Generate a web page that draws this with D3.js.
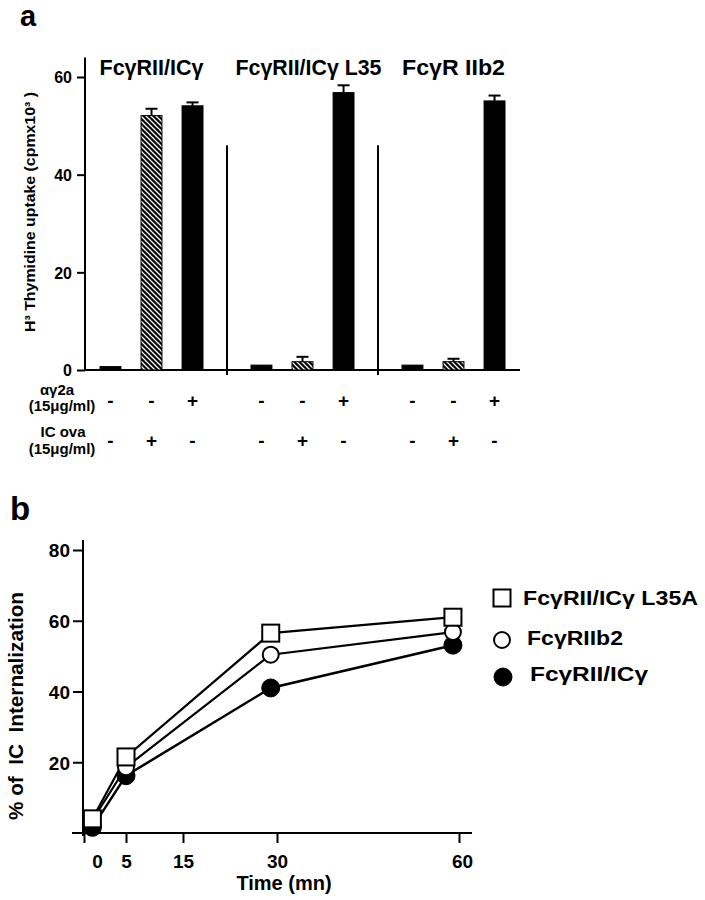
<!DOCTYPE html>
<html><head><meta charset="utf-8">
<script src="https://cdn.jsdelivr.net/npm/d3@7"></script>
<style>
body{margin:0;background:#fff;}
svg text{font-family:"Liberation Sans",Arial,Helvetica,sans-serif;font-weight:bold;fill:#000;}
</style></head>
<body>
<svg id="chart" width="705" height="900"></svg>
<script>
// ---------- Panel a data ----------
const groups = ["FcγRII/ICγ", "FcγRII/ICγ L35", "FcγR IIb2"];
const conditions = ["none", "IC ova", "αγ2a"];
const thymidine = [
  [0.7, 52.1, 54.1],
  [1.0, 1.7, 56.8],
  [1.0, 1.7, 55.1]
];
const thymidineErr = [
  [0, 1.4, 0.7],
  [0, 1.0, 1.5],
  [0, 0.6, 1.1]
];
const antiSigns = ["-", "-", "+"];
const icOvaSigns = ["-", "+", "-"];
const yTicksA = [0, 20, 40, 60];

// ---------- Panel b data ----------
const times = [1, 5, 29, 59];
const seriesNames = ["FcγRII/ICγ L35A", "FcγRIIb2", "FcγRII/ICγ"];
const l35aValues = [4.0, 21.5, 56.5, 61.0];
const iib2Values = [3.6, 18.6, 50.4, 56.8];
const icgValues = [1.6, 16.2, 41.0, 53.1];
const xTicksB = [0, 5, 15, 30, 60];
const yTicksB = [20, 40, 60, 80];

const svg = d3.select("#chart");
const defs = svg.append("defs");
const pat = defs.append("pattern").attr("id", "hatch")
  .attr("patternUnits", "userSpaceOnUse").attr("width", 5).attr("height", 5);
pat.append("rect").attr("width", 5).attr("height", 5).attr("fill", "#000");
pat.append("path").attr("d", "M-1,-1L6,6M-1,4L1,6M4,-1L6,1")
  .attr("stroke", "#fff").attr("stroke-width", 1.3);

// ================= PANEL A =================
svg.append("text").attr("x", 20).attr("y", 26).attr("font-size", 29).text("a");

const yA = d3.scaleLinear().domain([0, 60]).range([370, 77]);
const xG = d3.scaleBand().domain(groups).range([100, 100 + 2 * 151 + 103]).paddingInner(48 / 151).paddingOuter(0);
const xC = d3.scaleBand().domain(conditions).range([0, xG.bandwidth()]).paddingInner(0.49).paddingOuter(0);

const gA = svg.append("g");
gA.append("line").attr("x1", 85).attr("x2", 85).attr("y1", yA(64)).attr("y2", yA(0) + 1)
  .attr("stroke", "#000").attr("stroke-width", 2);
const yAxisA = d3.axisLeft(yA).tickValues(yTicksA).tickSize(8).tickPadding(5);
const ya = gA.append("g").attr("transform", "translate(85,0)").call(yAxisA);
ya.select(".domain").remove();
ya.selectAll(".tick line").attr("stroke", "#000").attr("stroke-width", 2);
ya.selectAll(".tick text").attr("font-size", 16).attr("font-family", null).attr("dy", "0.36em");
gA.append("line").attr("x1", 84).attr("x2", 520).attr("y1", yA(0)).attr("y2", yA(0))
  .attr("stroke", "#000").attr("stroke-width", 2);
groups.slice(1).forEach((g, i) => {
  const prevEnd = xG(groups[i]) + xG.bandwidth();
  const sx = (prevEnd + xG(g)) / 2;
  gA.append("line").attr("x1", sx).attr("x2", sx).attr("y1", yA(46)).attr("y2", yA(0) + 5)
    .attr("stroke", "#000").attr("stroke-width", 2);
});
gA.append("text").attr("transform", "translate(35,212) rotate(-90)")
  .attr("text-anchor", "middle").attr("font-size", 14)
  .attr("textLength", 240).attr("lengthAdjust", "spacingAndGlyphs")
  .text("H³ Thymidine uptake (cpmx10³ )");

const titleW = [104, 146, 103];
groups.forEach((g, gi) => {
  const gx = xG(g);
  gA.append("text").attr("x", gx + xG.bandwidth() / 2 + (gi === 1 ? 6 : 0)).attr("y", 75)
    .attr("text-anchor", "middle").attr("font-size", 22)
    .attr("textLength", titleW[gi]).attr("lengthAdjust", "spacingAndGlyphs").text(g);
  conditions.forEach((c, ci) => {
    const v = thymidine[gi][ci], e = thymidineErr[gi][ci];
    const bx = gx + xC(c), bw = xC.bandwidth();
    gA.append("rect").attr("x", bx).attr("y", yA(v)).attr("width", bw)
      .attr("height", yA(0) - yA(v))
      .attr("fill", ci === 1 ? "url(#hatch)" : "#000").attr("stroke", "#000").attr("stroke-width", 1);
    if (e > 0) {
      const cx = bx + bw / 2;
      gA.append("line").attr("x1", cx).attr("x2", cx).attr("y1", yA(v)).attr("y2", yA(v + e))
        .attr("stroke", "#000").attr("stroke-width", 2);
      gA.append("line").attr("x1", cx - 6).attr("x2", cx + 6).attr("y1", yA(v + e)).attr("y2", yA(v + e))
        .attr("stroke", "#000").attr("stroke-width", 2);
    }
    gA.append("text").attr("x", bx + bw / 2).attr("y", 407).attr("text-anchor", "middle")
      .attr("font-size", 19).text(antiSigns[ci]);
    gA.append("text").attr("x", bx + bw / 2).attr("y", 447).attr("text-anchor", "middle")
      .attr("font-size", 19).text(icOvaSigns[ci]);
  });
});
[["αγ2a", 57, 395], ["(15μg/ml)", 62, 411], ["IC ova", 63, 437], ["(15μg/ml)", 62, 454]].forEach(d => {
  gA.append("text").attr("x", d[1]).attr("y", d[2]).attr("text-anchor", "middle")
    .attr("font-size", 15).text(d[0]);
});

// ================= PANEL B =================
svg.append("text").attr("x", 10).attr("y", 520).attr("font-size", 33).text("b");

const yB = d3.scaleLinear().domain([0, 80]).range([833, 550]);
const xB = d3.scaleLinear().domain([0, 5, 15, 30, 60]).range([84, 126, 183, 277, 459]);

const gB = svg.append("g");
gB.append("line").attr("x1", 83).attr("x2", 83).attr("y1", yB(82.8)).attr("y2", yB(0) + 3)
  .attr("stroke", "#000").attr("stroke-width", 2);
const yAxisB = d3.axisLeft(yB).tickValues(yTicksB).tickSize(10).tickPadding(3);
const yb = gB.append("g").attr("transform", "translate(83,0)").call(yAxisB);
yb.select(".domain").remove();
yb.selectAll(".tick line").attr("stroke", "#000").attr("stroke-width", 2);
yb.selectAll(".tick text").attr("font-size", 19).attr("font-family", null).attr("dy", "0.36em");

gB.append("line").attr("x1", 72).attr("x2", 472).attr("y1", yB(0)).attr("y2", yB(0))
  .attr("stroke", "#000").attr("stroke-width", 2);
const xAxisB = d3.axisBottom(xB).tickValues(xTicksB).tickSize(10).tickPadding(12);
const xb = gB.append("g").attr("transform", `translate(0,${yB(0)})`).call(xAxisB);
xb.select(".domain").remove();
xb.selectAll(".tick line").attr("stroke", "#000").attr("stroke-width", 2);
xb.selectAll(".tick text").attr("font-size", 19).attr("font-family", null)
  .attr("dx", d => d === 0 ? 13 : (d === 60 ? 3 : 0));

gB.append("text").attr("x", 284).attr("y", 890).attr("text-anchor", "middle")
  .attr("font-size", 20).text("Time (mn)");
gB.append("text").attr("transform", "translate(23,706) rotate(-90)")
  .attr("text-anchor", "middle").attr("font-size", 20)
  .style("white-space", "pre")
  .attr("textLength", 228).attr("lengthAdjust", "spacingAndGlyphs")
  .text("% of  IC  Internalization");

const line = d3.line().x((d, i) => xB(times[i])).y(d => yB(d));
const series = [
  {name: seriesNames[2], values: icgValues, marker: "filled"},
  {name: seriesNames[1], values: iib2Values, marker: "open"},
  {name: seriesNames[0], values: l35aValues, marker: "square"}
];
series.forEach(s => {
  gB.append("path").datum(s.values).attr("d", line)
    .attr("fill", "none").attr("stroke", "#000").attr("stroke-width", s.marker === "filled" ? 2.5 : 2.2);
});
function drawMarker(g, type, x, y) {
  if (type === "square") {
    g.append("rect").attr("x", x - 8.5).attr("y", y - 8.5).attr("width", 17).attr("height", 17)
      .attr("fill", "#fff").attr("stroke", "#000").attr("stroke-width", 2);
  } else if (type === "open") {
    g.append("circle").attr("cx", x).attr("cy", y).attr("r", 8)
      .attr("fill", "#fff").attr("stroke", "#000").attr("stroke-width", 2);
  } else {
    g.append("circle").attr("cx", x).attr("cy", y).attr("r", 9)
      .attr("fill", "#000").attr("stroke", "#000").attr("stroke-width", 1);
  }
}
series.forEach(s => {
  s.values.forEach((v, i) => drawMarker(gB, s.marker, xB(times[i]), yB(v)));
});

const legend = [
  {name: seriesNames[0], marker: "square", mx: 502, my: 598, tx: 523, ty: 605, w: 175},
  {name: seriesNames[1], marker: "open", mx: 502, my: 640, tx: 527, ty: 645, w: 96},
  {name: seriesNames[2], marker: "filled", mx: 503, my: 677, tx: 530, ty: 681, w: 118}
];
legend.forEach(l => {
  drawMarker(gB, l.marker, l.mx, l.my);
  gB.append("text").attr("x", l.tx).attr("y", l.ty).attr("font-size", 20)
    .attr("textLength", l.w).attr("lengthAdjust", "spacingAndGlyphs").text(l.name);
});
</script>
</body></html>
